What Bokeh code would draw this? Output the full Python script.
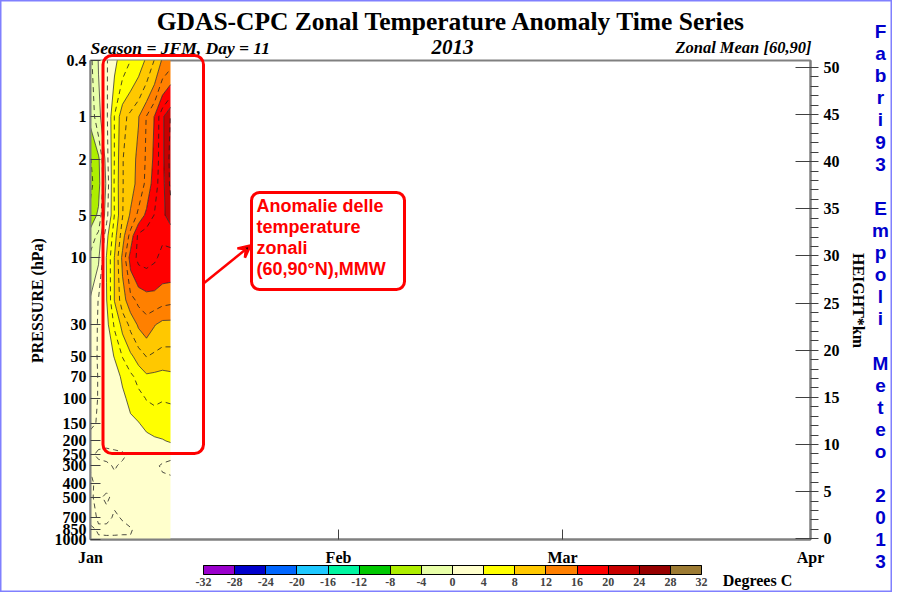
import math
import numpy as np
from bokeh.plotting import figure
from bokeh.models import (Range1d, LinearAxis, LinearScale, FixedTicker, Label,
                          BoxAnnotation, Arrow, VeeHead, ColorBar, LinearColorMapper)
from bokeh.embed import file_html
from bokeh.resources import INLINE

# ---------------- data ----------------
days = [0, 1, 2, 3, 4, 5, 6, 7, 8, 9, 10]          # days since 1 Jan 2013
pressure = [0.4, 1, 2, 3, 5, 7, 10, 20, 30, 50, 70, 100, 150, 200, 250, 300, 400, 500, 700, 850, 1000]

anom_0p4 = [-2.5, 0.1, 1.8, 3.5, 5.0, 6.0, 7.0, 8.3, 10.1, 12.3, 13.1]
anom_1 = [-3.5, -0.5, 1.5, 6.1, 9.3, 10.6, 11.9, 14.1, 16.1, 19.6, 22.1]
anom_2 = [-6.1, -4.5, 1.1, 6.1, 9.9, 11.1, 12.5, 14.3, 16.5, 19.5, 22.6]
anom_3 = [-6.5, -4.8, 0.5, 6.3, 9.9, 11.1, 12.7, 14.5, 17.1, 19.3, 22.4]
anom_5 = [-5.3, -3.6, 1.2, 6.1, 9.9, 12.3, 14.5, 16.5, 18.1, 19.5, 21.1]
anom_7 = [-3.1, -1.5, 3.3, 7.1, 11.1, 14.8, 18.5, 19.1, 18.7, 18.3, 18.5]
anom_10 = [-1.5, -0.3, 4.1, 8.1, 12.5, 16.8, 18.5, 18.7, 18.3, 17.5, 17.5]
anom_20 = [0.2, 2.1, 3.9, 8.1, 11.1, 13.3, 14.5, 15.1, 15.1, 14.7, 14.5]
anom_30 = [0.8, 2.2, 3.3, 6.3, 8.6, 10.5, 12.3, 13.1, 12.1, 11.3, 11.3]
anom_50 = [1.1, 2.2, 3.1, 4.1, 6.1, 7.6, 8.9, 10.1, 9.6, 9.3, 9.3]
anom_70 = [1.1, 2.1, 2.8, 3.2, 4.3, 5.5, 6.7, 7.6, 7.5, 7.3, 7.5]
anom_100 = [1.2, 2.1, 2.6, 3.1, 3.6, 4.5, 5.3, 6.1, 6.3, 6.1, 6.2]
anom_150 = [1.8, 2.1, 2.4, 2.8, 3.2, 3.6, 3.9, 4.6, 5.1, 5.1, 5.1]
anom_200 = [2.4, 2.3, 2.3, 2.5, 2.7, 2.9, 3.1, 3.3, 3.6, 3.85, 4.2]
anom_250 = [2.2, 1.8, 1.7, 1.7, 1.8, 2.2, 2.6, 2.8, 2.9, 2.6, 2.3]
anom_300 = [2.1, 2.3, 2.2, 1.9, 2.2, 2.4, 2.5, 2.5, 2.3, 1.8, 1.7]
anom_400 = [1.8, 2.3, 2.4, 2.3, 2.4, 2.5, 2.6, 2.6, 2.5, 2.4, 2.3]
anom_500 = [1.9, 2.2, 1.8, 2.3, 2.5, 2.6, 2.7, 2.7, 2.6, 2.5, 2.4]
anom_700 = [1.7, 2.1, 2.4, 1.8, 2.1, 2.4, 2.6, 2.7, 2.6, 2.5, 2.5]
anom_850 = [2.2, 1.9, 1.6, 1.5, 1.7, 1.9, 2.3, 2.6, 2.6, 2.5, 2.5]
anom_1000 = [2.3, 2.1, 2.3, 2.4, 2.3, 2.1, 2.4, 2.6, 2.6, 2.5, 2.5]

levels = [-32, -28, -24, -20, -16, -12, -8, -4, 0, 4, 8, 12, 16, 20, 24, 28, 32]
level_labels = [str(v) for v in levels]
dashed_levels = [-6, -2, 2, 6, 10, 14, 18, 22]
palette = ["#9A00CC", "#0000CC", "#0066FF", "#1EC8FF", "#00F5A0", "#00C800", "#AEEE00", "#E8FFA8",
           "#FFFFCC", "#FFFF00", "#FFC800", "#FF8000", "#FF0000", "#C80000", "#960000", "#9C7A32"]

pressure_ticks = [0.4, 1, 2, 5, 10, 30, 50, 70, 100, 150, 200, 250, 300, 400, 500, 700, 850, 1000]
pressure_labels = ["0.4", "1", "2", "5", "10", "30", "50", "70", "100", "150", "200", "250", "300",
                   "400", "500", "700", "850", "1000"]
month_ticks = [0, 31, 59, 90]
month_labels = ["Jan", "Feb", "Mar", "Apr"]
height_ticks = [0, 5, 10, 15, 20, 25, 30, 35, 40, 45, 50]
height_minor_ticks = [v for v in range(0, 51) if v % 5 != 0]

z = np.array([anom_0p4, anom_1, anom_2, anom_3, anom_5, anom_7, anom_10, anom_20, anom_30,
              anom_50, anom_70, anom_100, anom_150, anom_200, anom_250, anom_300, anom_400,
              anom_500, anom_700, anom_850, anom_1000])

SERIF = "Liberation Serif"
SANS = "Liberation Sans"

# ---------------- geometry (canvas pixels of the chart box) ----------------
W, H = 892, 592
BL, BT, BR, BB = 90, 60, 810, 539            # chart box edges
P_TOP, P_BOT = 0.4, 1000.0
KM_TOP, KM_BOT = 50.72, -0.07
DAY_END = 90.0

def fx(xpix):
    return (xpix - BL) * DAY_END / (BR - BL)

def fk(ypix):
    return KM_TOP - (ypix - BT) * (KM_TOP - KM_BOT) / (BB - BT)

def fp(ypix):
    lt, lb = math.log10(P_TOP), math.log10(P_BOT)
    return 10 ** (lt + (ypix - BT) * (lb - lt) / (BB - BT))

# the plotting frame covers the whole canvas; the axes sit at fixed locations
p = figure(width=W, height=H, x_range=Range1d(fx(0), fx(W)), y_range=Range1d(fp(H), fp(0)),
           y_axis_type="log", output_backend="svg", toolbar_location=None, title=None,
           min_border=0, background_fill_color="white", border_fill_color="white")
p.extra_y_ranges = {"km": Range1d(fk(H), fk(0))}
p.extra_y_scales = {"km": LinearScale()}
p.grid.visible = False
p.outline_line_color = "#8080FF"
p.outline_line_width = 2

def style_axis(ax, size="16px"):
    ax.major_tick_line_color = "#404040"
    ax.axis_line_color = "#808080"
    ax.axis_line_width = 2
    ax.major_label_text_font = SERIF
    ax.major_label_text_font_style = "bold"
    ax.major_label_text_font_size = size
    ax.major_label_text_color = "black"

# x axis
xa = p.xaxis[0]
xa.fixed_location = P_BOT
xa.bounds = (0, DAY_END)
xa.ticker = FixedTicker(ticks=month_ticks, minor_ticks=[])
xa.major_label_overrides = dict(zip(month_ticks, month_labels))
xa.major_tick_in = 10
xa.major_tick_out = 0
xa.major_label_standoff = 9
style_axis(xa)

# left pressure axis
ya = p.yaxis[0]
ya.fixed_location = 0
ya.bounds = (P_TOP, P_BOT)
ya.ticker = FixedTicker(ticks=pressure_ticks, minor_ticks=[])
ya.major_label_overrides = dict(zip(pressure_ticks, pressure_labels))
ya.major_tick_in = 10
ya.major_tick_out = 0
ya.major_label_standoff = 4
style_axis(ya)

# right height axis
ra = LinearAxis(y_range_name="km", fixed_location=DAY_END, bounds=(KM_BOT, KM_TOP),
                ticker=FixedTicker(ticks=height_ticks, minor_ticks=height_minor_ticks))
ra.major_tick_in = 15
ra.major_tick_out = 8
ra.minor_tick_in = 0
ra.minor_tick_out = 8
ra.minor_tick_line_color = "#404040"
ra.major_label_standoff = 5
style_axis(ra)
p.add_layout(ra, "right")

# chart box outline
p.add_layout(BoxAnnotation(left=0, right=DAY_END, top=P_TOP, bottom=P_BOT, fill_color=None,
                           fill_alpha=0, line_color="#808080", line_alpha=1, line_width=2,
                           level="underlay"))

# ---------------- contours ----------------
p.contour(x=days, y=pressure, z=z, levels=levels, fill_color=palette,
          line_color="#202020", line_width=0.7)
p.contour(x=days, y=pressure, z=z, levels=dashed_levels,
          line_color="#202020", line_width=0.8, line_dash="5 4")

# ---------------- texts ----------------
def add_label(xpix, ypix, text, size, font=SERIF, style="bold", color="black", align="center",
              angle=0.0):
    p.add_layout(Label(x=fx(xpix), y=fk(ypix), y_range_name="km", text=text, text_font=font,
                       text_font_style=style, text_font_size=size, text_color=color,
                       text_align=align, text_baseline="middle", angle=angle))

add_label(451, 21, "GDAS-CPC Zonal Temperature Anomaly Time Series", "25.5px")
add_label(90, 47, "Season = JFM, Day = 11", "17.5px", style="bold italic", align="left")
add_label(452, 46, "2013", "21px", style="bold italic")
add_label(811, 47, "Zonal Mean [60,90]", "16.5px", style="bold italic", align="right")
add_label(757, 580, "Degrees C", "16px")
add_label(37, 300, "PRESSURE (hPa)", "16px", angle=math.pi / 2)
add_label(858, 300, "HEIGHT*km", "16px", angle=-math.pi / 2)

fabri_text = "Fabri93 Empoli Meteo 2013"
for i, ch in enumerate(fabri_text):
    if ch != " ":
        add_label(880, 31 + i * 22.1, ch, "19px", font=SANS, color="#0000CC")

note_lines = ["Anomalie delle", "temperature", "zonali", "(60,90°N),MMW"]
for i, line in enumerate(note_lines):
    add_label(256, 205 + i * 21.2, line, "18px", font=SANS, color="#FF0000", align="left")

# ---------------- annotation boxes / arrow ----------------
p.add_layout(BoxAnnotation(left=fx(102.5), right=fx(203), top=fk(55), bottom=fk(453),
                           y_range_name="km", fill_color=None, fill_alpha=0,
                           line_color="#FF0000", line_alpha=1, line_width=3, border_radius=9))
p.add_layout(BoxAnnotation(left=fx(251), right=fx(404), top=fk(192), bottom=fk(289),
                           y_range_name="km", fill_color=None, fill_alpha=0,
                           line_color="#FF0000", line_alpha=1, line_width=3, border_radius=8))
p.add_layout(Arrow(end=VeeHead(size=12, line_color="#FF0000", line_width=2.5),
                   x_start=fx(203), y_start=fk(283), x_end=fx(250), y_end=fk(245),
                   y_range_name="km", line_color="#FF0000", line_width=2.5))

# ---------------- colour bar ----------------
mapper = LinearColorMapper(palette=palette, low=-32, high=32)
cb = ColorBar(color_mapper=mapper, ticker=FixedTicker(ticks=levels, minor_ticks=[]),
              major_label_overrides=dict(zip(levels, level_labels)),
              orientation="horizontal", location=(203, H - 588), width=498, height=9, padding=0,
              label_standoff=3, major_tick_in=9, major_tick_out=0,
              major_tick_line_color="black", bar_line_color="black",
              major_label_text_font=SERIF, major_label_text_font_style="bold",
              major_label_text_font_size="12px", background_fill_alpha=0,
              border_line_color=None)
p.add_layout(cb, "center")

open("out.html", "w").write(file_html(p, INLINE))
